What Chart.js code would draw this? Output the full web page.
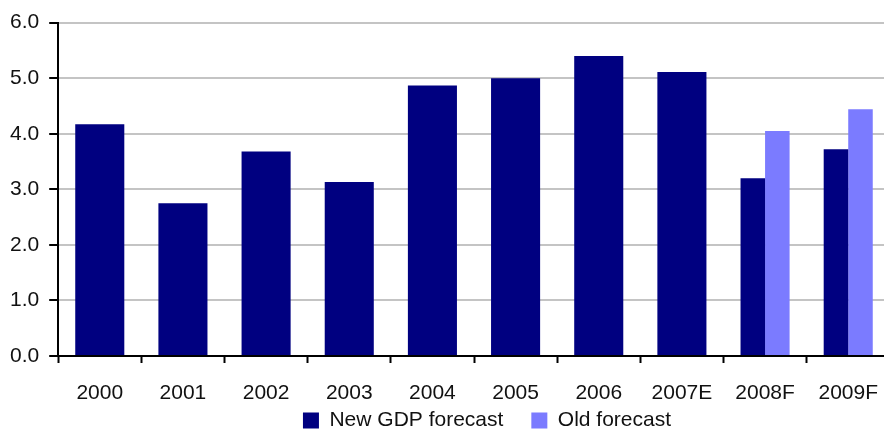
<!DOCTYPE html>
<html>
<head>
<meta charset="utf-8">
<script src="https://cdn.jsdelivr.net/npm/chart.js@4/dist/chart.umd.min.js"></script>
<style>
  html, body { margin: 0; padding: 0; background: #fff; overflow: hidden; }
  .chartBox { width: 896px; height: 444px; }
</style>
</head>
<body>
<div class="chartBox"><canvas id="gdpChart"></canvas></div>
<script>
const years = ["2000", "2001", "2002", "2003", "2004", "2005", "2006", "2007E", "2008F", "2009F"];
const newForecast = [4.17, 2.75, 3.68, 3.13, 4.87, 5.0, 5.4, 5.11, 3.2, 3.72];
const oldForecast = [null, null, null, null, null, null, null, null, 4.05, 4.44];
const yTicks = [0, 1, 2, 3, 4, 5, 6];

const font = { family: "'Liberation Sans', Arial, sans-serif", size: 21 };

// legend is laid out with a tight padding (keeps it short) but drawn
// with a wider gap between its two items, slightly off centre
const legendGap = {
  id: "legendGap",
  gap: 28,
  shift: -11,
  beforeDraw(chart) {
    const lg = chart.legend;
    const lab = lg.options.labels;
    lg._saved = { top: lg.top, left: lg.left, right: lg.right, pad: lab.padding };
    lg.top += lab.padding - this.gap;
    lg.left += this.shift;
    lg.right += this.shift;
    lab.padding = this.gap;
  },
  afterDraw(chart) {
    const lg = chart.legend;
    const s = lg._saved;
    lg.top = s.top;
    lg.left = s.left;
    lg.right = s.right;
    lg.options.labels.padding = s.pad;
  },
};

new Chart(document.getElementById("gdpChart"), {
  type: "bar",
  data: {
    labels: years,
    datasets: [
      {
        label: "New GDP forecast",
        data: newForecast,
        backgroundColor: "#000080",
        borderWidth: 0,
      },
      {
        label: "Old forecast",
        data: oldForecast,
        backgroundColor: "#7b7bff",
        borderWidth: 0,
      },
    ],
  },
  plugins: [legendGap],
  options: {
    responsive: true,
    maintainAspectRatio: false,
    animation: false,
    skipNull: true,
    categoryPercentage: 0.59,
    barPercentage: 1.0,
    layout: { padding: { top: 10, left: 0, right: 0, bottom: 3 } },
    plugins: {
      tooltip: { enabled: false },
      legend: {
        position: "bottom",
        fullSize: false,
        labels: {
          color: "#111",
          font: font,
          boxWidth: 16,
          boxHeight: 16,
          padding: 4,
        },
      },
    },
    scales: {
      x: {
        offset: true,
        grid: {
          display: true,
          drawOnChartArea: false,
          drawTicks: true,
          tickLength: 7,
          tickWidth: 2,
          tickColor: "#000",
          offset: true,
        },
        border: { display: true, color: "#000", width: 2 },
        ticks: { color: "#111", font: font, padding: 18 },
        // keep the axis band no taller than the labels need
        afterFit: (scale) => {
          scale.height = 50;
        },
      },
      y: {
        min: 0,
        max: 6,
        afterBuildTicks: (axis) => {
          axis.ticks = yTicks.map((v) => ({ value: v }));
        },
        grid: {
          color: "#c4c4c4",
          lineWidth: 2,
          drawTicks: true,
          tickLength: 9,
          tickWidth: 2,
          tickColor: "#000",
        },
        border: { display: true, color: "#000", width: 2 },
        ticks: {
          color: "#111",
          font: font,
          padding: 10,
          callback: (v) => Number(v).toFixed(1),
        },
      },
    },
  },
});
</script>
</body>
</html>
